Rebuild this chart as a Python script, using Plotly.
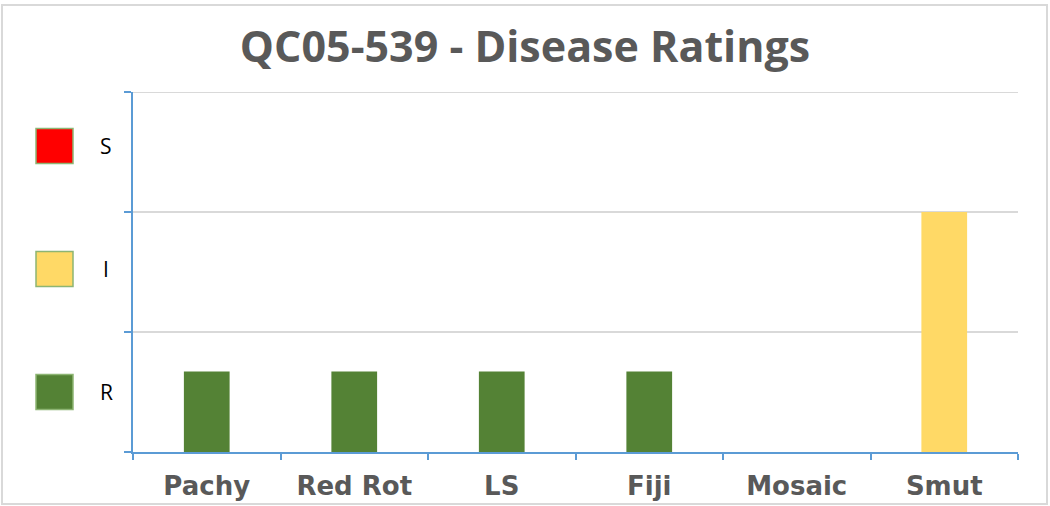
import plotly.graph_objects as go

# Data
categories = ["Pachy", "Red Rot", "LS", "Fiji", "Mosaic", "Smut"]
ratings = ["R", "R", "R", "R", "", "I"]
values = [0.67, 0.67, 0.67, 0.67, 0, 2]
legend_labels = ["S", "I", "R"]
legend_colors = ["#FF0000", "#FFD966", "#548235"]
rating_colors = {"S": "#FF0000", "I": "#FFD966", "R": "#548235", "": "#FFFFFF"}

W, H = 1050, 506
L, R_, T, B = 133, 32, 92, 54
pw, ph = W - L - R_, H - T - B

def px_x(x):
    return (x - L) / pw

def px_y(y):
    return (H - B - y) / ph

fig = go.Figure()
fig.add_trace(go.Bar(
    x=categories, y=values,
    marker=dict(color=[rating_colors[r] for r in ratings], line=dict(width=0)),
    width=0.31, hoverinfo="x+y", showlegend=False,
))

shapes = []
annotations = []
# outer frame
shapes.append(dict(type="rect", xref="paper", yref="paper",
                   x0=px_x(2), x1=px_x(1047), y0=px_y(504), y1=px_y(5),
                   line=dict(color="#D9D9D9", width=2), fillcolor="rgba(0,0,0,0)", layer="below"))
# top gridline
shapes.append(dict(type="line", xref="paper", yref="y", x0=0, x1=1, y0=3, y1=3,
                   line=dict(color="#D9D9D9", width=2), layer="below"))
leg_y = [146, 269, 392]
for lab, col, yc in zip(legend_labels, legend_colors, leg_y):
    shapes.append(dict(type="rect", xref="paper", yref="paper",
                       x0=px_x(36), x1=px_x(73), y0=px_y(yc + 17.5), y1=px_y(yc - 17.5),
                       fillcolor=col, line=dict(color="#8DB573", width=1.5)))
    annotations.append(dict(text=lab, xref="paper", yref="paper", x=px_x(106), y=px_y(yc),
                            xanchor="center", yanchor="middle", showarrow=False,
                            font=dict(family="Open Sans, Arial", size=21, color="#000000")))

fig.update_layout(
    width=W, height=H,
    margin=dict(l=L, r=R_, t=T, b=B, autoexpand=False),
    paper_bgcolor="white", plot_bgcolor="white",
    title=dict(text="<b>QC05-539 - Disease Ratings</b>", x=0.5, xref="container", xanchor="center",
               y=1 - 47 / H, yanchor="middle",
               font=dict(family="Open Sans, Arial", size=43, color="#595959")),
    xaxis=dict(
        type="category", tickson="boundaries", ticks="outside", ticklen=6,
        tickcolor="#5B9BD5", tickwidth=2, showline=True, linecolor="#5B9BD5", linewidth=2,
        showgrid=False, tickfont=dict(family="DejaVu Sans, Verdana", size=26, color="#595959"),
        tickprefix="<b>", ticksuffix="</b>", ticklabelstandoff=10, automargin=False,
    ),
    yaxis=dict(
        range=[0, 3], dtick=1, tick0=0, ticks="outside", ticklen=7, tickcolor="#5B9BD5", tickwidth=2,
        showline=True, linecolor="#5B9BD5", linewidth=2, showticklabels=False,
        showgrid=True, gridcolor="#D9D9D9", gridwidth=2, zeroline=False, automargin=False,
    ),
    shapes=shapes, annotations=annotations,
    bargap=0.69,
)
fig.write_html("out.html", config={"displayModeBar": False},
               post_script="document.body.style.margin='0';")
